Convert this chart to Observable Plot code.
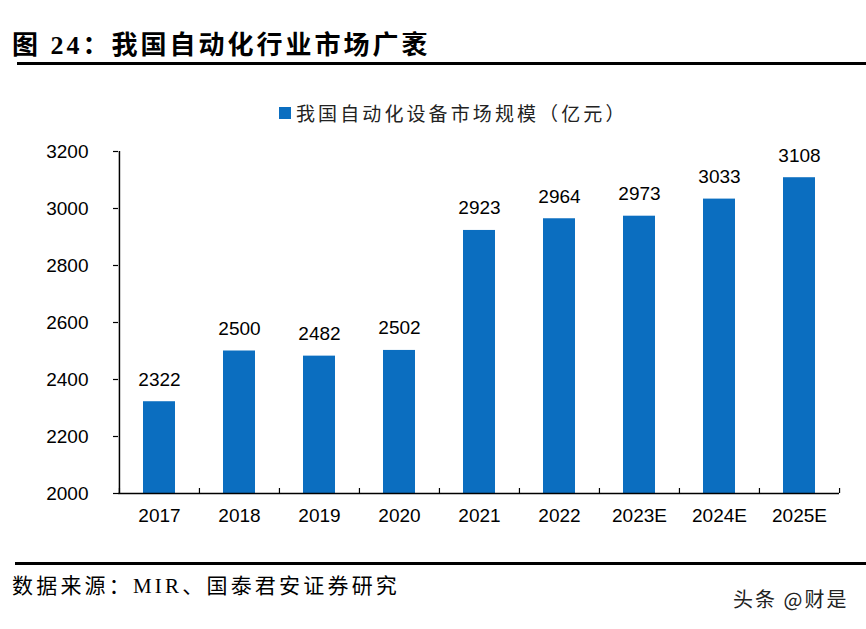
<!DOCTYPE html>
<html>
<head>
<meta charset="utf-8">
<script src="https://cdn.jsdelivr.net/npm/d3@7"></script>
<script src="https://cdn.jsdelivr.net/npm/@observablehq/plot@0.6"></script>
<style>
  body { margin: 0; background: #fff; }
  #wrap { position: relative; width: 866px; height: 629px; background: #fff; overflow: hidden; }
  .abs { position: absolute; white-space: nowrap; }
  #title { left: 12px; top: 24px; font-family: "Liberation Serif", "Noto Sans CJK SC", serif; font-weight: bold; font-size: 26px; letter-spacing: 3px; color: #000; }
  #rule1 { left: 17px; top: 62px; width: 849px; height: 3px; background: #000; }
  #legend { left: 279px; top: 99px; font-family: "Noto Sans CJK SC", sans-serif; font-size: 19px; letter-spacing: 3.1px; color: #222; display: flex; align-items: center; }
  #legend .sw { width: 12px; height: 12px; background: #0B6EC0; margin-right: 5px; }
  #chart { left: 0; top: 125px; }
  #rule2 { left: 15px; top: 562px; width: 851px; height: 2.5px; background: #000; }
  #source { left: 12px; top: 569px; font-family: "Liberation Serif", "Noto Sans CJK SC", serif; font-size: 21px; letter-spacing: 3.2px; color: #000; }
  #mark { left: 733px; top: 584px; font-family: "Noto Sans CJK SC", sans-serif; font-size: 20px; letter-spacing: 2px; color: #222; }
</style>
</head>
<body>
<div id="wrap">
  <div id="title" class="abs">图 24：我国自动化行业市场广袤</div>
  <div id="rule1" class="abs"></div>
  <div id="legend" class="abs"><span class="sw"></span><span id="legendText"></span></div>
  <div id="chart" class="abs"></div>
  <div id="rule2" class="abs"></div>
  <div id="source" class="abs">数据来源：MIR、国泰君安证券研究</div>
  <div id="mark" class="abs">头条 @财是</div>
</div>
<script>
const seriesName = "我国自动化设备市场规模（亿元）";
const years = ["2017", "2018", "2019", "2020", "2021", "2022", "2023E", "2024E", "2025E"];
const values = [2322, 2500, 2482, 2502, 2923, 2964, 2973, 3033, 3108];
const yTicks = [2000, 2200, 2400, 2600, 2800, 3000, 3200];

document.getElementById("legendText").textContent = seriesName;

const data = years.map((y, i) => ({year: y, value: values[i]}));
const W = 866, H = 420, mT = 26, mB = 52, mL = 118, mR = 27;
const yMin = yTicks[0], yMax = yTicks[yTicks.length - 1];
const step = (W - mL - mR) / years.length;
const tickUnits = 5 * (yMax - yMin) / (H - mT - mB);
const color = "#0B6EC0";

const plot = Plot.plot({
  width: W, height: H,
  marginTop: mT, marginBottom: mB, marginLeft: mL, marginRight: mR,
  style: {fontFamily: "Arial, 'Liberation Sans', sans-serif", color: "#000", background: "transparent"},
  x: {domain: years, padding: 0, label: null},
  y: {domain: [yMin, yMax], label: null},
  marks: [
    Plot.barY(data, {x: "year", y1: () => yMin, y2: "value", fill: color, insetLeft: 24, insetRight: 24}),
    Plot.text(data, {x: "year", y: "value", text: d => String(d.value), dy: -16, lineAnchor: "bottom", fontSize: 19, fill: "#000"}),
    Plot.ruleY([yMin], {stroke: "#000", strokeWidth: 1.5}),
    Plot.ruleX([years[0]], {y1: yMin, y2: yMax, dx: -step / 2, stroke: "#000", strokeWidth: 1.5}),
    Plot.ruleX(years, {y1: yMin, y2: yMin + tickUnits, dx: -step / 2, stroke: "#000", strokeWidth: 1.2}),
    Plot.ruleX([years[years.length - 1]], {y1: yMin, y2: yMin + tickUnits, dx: step / 2, stroke: "#000", strokeWidth: 1.2}),
    Plot.axisY({ticks: yTicks, tickSize: 5, tickPadding: 25, fontSize: 19, tickFormat: d => String(d), stroke: "#000", strokeWidth: 1.2}),
    Plot.axisX({tickSize: 0, tickPadding: 15, fontSize: 19})
  ]
});
document.getElementById("chart").appendChild(plot);
</script>
</body>
</html>
